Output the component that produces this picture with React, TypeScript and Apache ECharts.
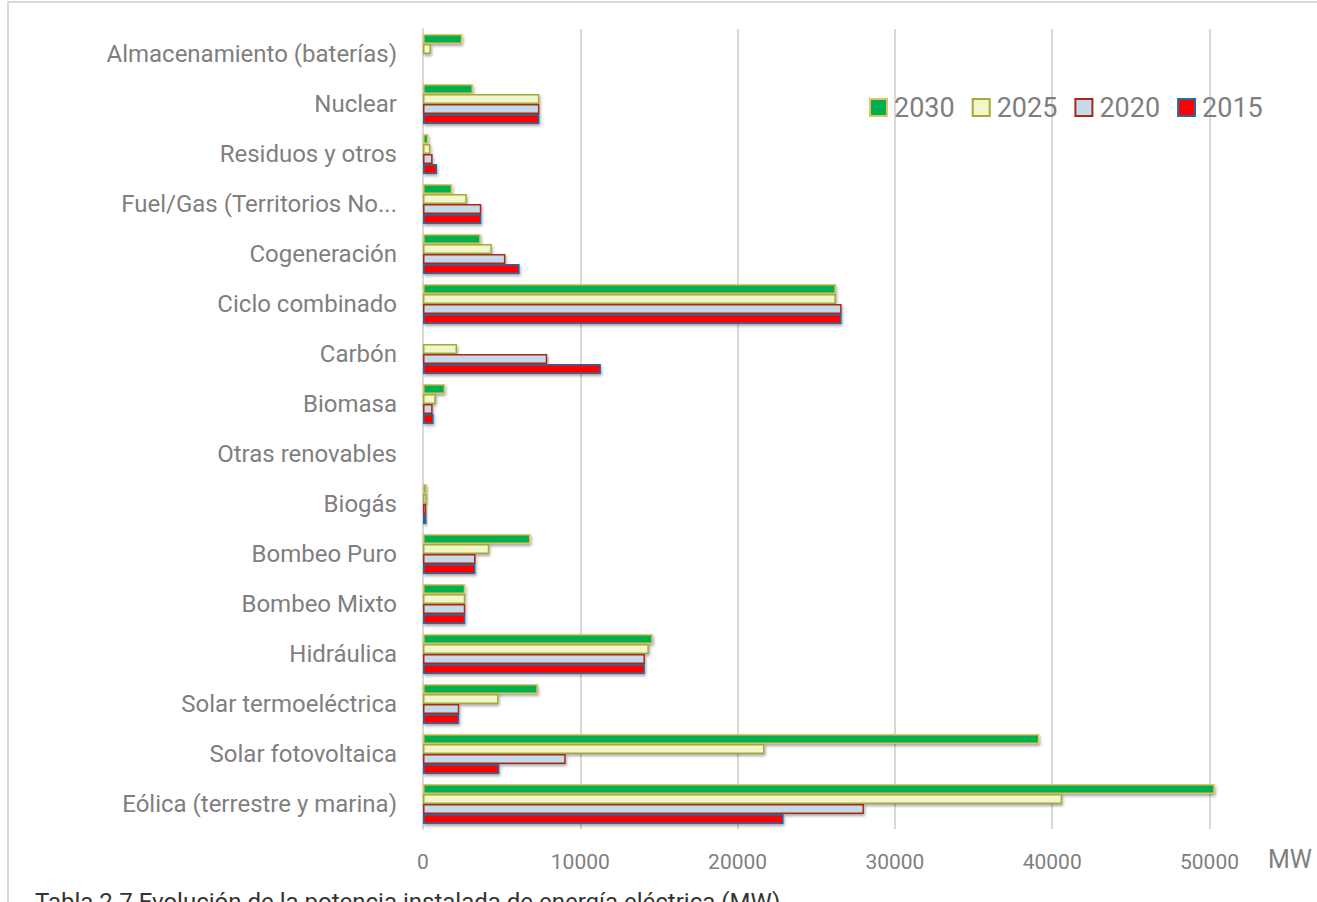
import React, { useEffect, useRef } from "react";
import * as echarts from "echarts";

const categories = [
  "Eólica (terrestre y marina)",
  "Solar fotovoltaica",
  "Solar termoeléctrica",
  "Hidráulica",
  "Bombeo Mixto",
  "Bombeo Puro",
  "Biogás",
  "Otras renovables",
  "Biomasa",
  "Carbón",
  "Ciclo combinado",
  "Cogeneración",
  "Fuel/Gas (Territorios No Peninsulares)",
  "Residuos y otros",
  "Nuclear",
  "Almacenamiento (baterías)",
];

const years = ["2030", "2025", "2020", "2015"];

const v2030 = [50333, 39181, 7303, 14609, 2687, 6837, 241, 80, 1408, 0, 26250, 3670, 1854, 341, 3181, 2500];
const v2025 = [40633, 21713, 4803, 14359, 2687, 4212, 241, 40, 815, 2165, 26250, 4373, 2781, 470, 7399, 500];
const v2020 = [28033, 9071, 2303, 14109, 2687, 3337, 211, 0, 613, 7897, 26612, 5239, 3708, 610, 7399, 0];
const v2015 = [22925, 4854, 2300, 14104, 2687, 3337, 223, 0, 677, 11311, 26612, 6143, 3708, 893, 7399, 0];

const xTicks = { min: 0, max: 60000, interval: 10000 };

const caption = "Tabla 2.7 Evolución de la potencia instalada de energía eléctrica (MW)";
const unit = "MW";

const styles = [
  { fill: "#00B050", border: "#E3C25B" },
  { fill: "#F3F6C8", border: "#A5A83C" },
  { fill: "#C5DBE9", border: "#A8291B" },
  { fill: "#FF0000", border: "#1F6EA6" },
];

const FONT = "Roboto, 'Noto Sans', sans-serif";

export default function App() {
  const ref = useRef<HTMLDivElement>(null);

  useEffect(() => {
    if (!ref.current) return;
    const chart = echarts.init(ref.current, undefined, { renderer: "svg" });
    const values = [v2030, v2025, v2020, v2015];
    chart.setOption({
      animation: false,
      textStyle: { fontFamily: FONT },
      grid: { left: 423, top: 29, width: 943.8, height: 800, containLabel: false },
      legend: {
        data: years,
        left: 864,
        top: 89,
        itemWidth: 17,
        itemHeight: 17,
        itemGap: 17,
        icon: "rect",
        textStyle: { fontSize: 27, color: "#7f7f7f", fontFamily: FONT, padding: [0, 0, 0, 2] },
      },
      xAxis: {
        type: "value",
        min: xTicks.min,
        max: xTicks.max,
        interval: xTicks.interval,
        axisLine: { show: false },
        axisTick: { show: false },
        splitLine: { lineStyle: { color: "#d9d9d9", width: 2 } },
        axisLabel: {
          color: "#7f7f7f",
          fontSize: 21,
          margin: 22,
          fontFamily: FONT,
          showMaxLabel: false,
          formatter: (v: number) => String(v),
        },
      },
      yAxis: {
        type: "category",
        data: categories,
        axisLine: { show: true, lineStyle: { color: "#d9d9d9", width: 2 } },
        axisTick: { show: false },
        axisLabel: {
          color: "#7f7f7f",
          fontSize: 24,
          margin: 26,
          fontFamily: FONT,
          formatter: (v: string) => (v.length > 30 ? v.slice(0, 24) + "..." : v),
        },
      },
      series: years.map((y, i) => ({
        name: y,
        type: "bar",
        data: values[i],
        barGap: "0%",
        barCategoryGap: "20%",
        itemStyle: {
          color: styles[i].fill,
          borderColor: styles[i].border,
          borderWidth: 1.5,
          shadowColor: "rgba(0,0,0,0.35)",
          shadowBlur: 3,
          shadowOffsetX: 1,
          shadowOffsetY: 2,
        },
      })),
      graphic: [
        {
          type: "text",
          left: 1268,
          top: 847,
          style: { text: unit, fontSize: 25, fill: "#7f7f7f", fontFamily: FONT },
        },
        {
          type: "text",
          left: 35,
          top: 890,
          style: { text: caption, fontSize: 24, fill: "#333333", fontFamily: FONT },
        },
      ],
    });
    return () => chart.dispose();
  }, []);

  return (
    <div style={{ position: "absolute", left: 0, top: 0, width: 1317, height: 902, overflow: "hidden", background: "#fff" }}>
      <div
        style={{
          position: "absolute",
          left: 7,
          top: 1,
          width: 2000,
          height: 2000,
          borderLeft: "2px solid #d9d9d9",
          borderTop: "2px solid #d9d9d9",
          boxSizing: "border-box",
        }}
      />
      <div ref={ref} style={{ position: "absolute", left: 0, top: 0, width: 1500, height: 902 }} />
    </div>
  );
}
